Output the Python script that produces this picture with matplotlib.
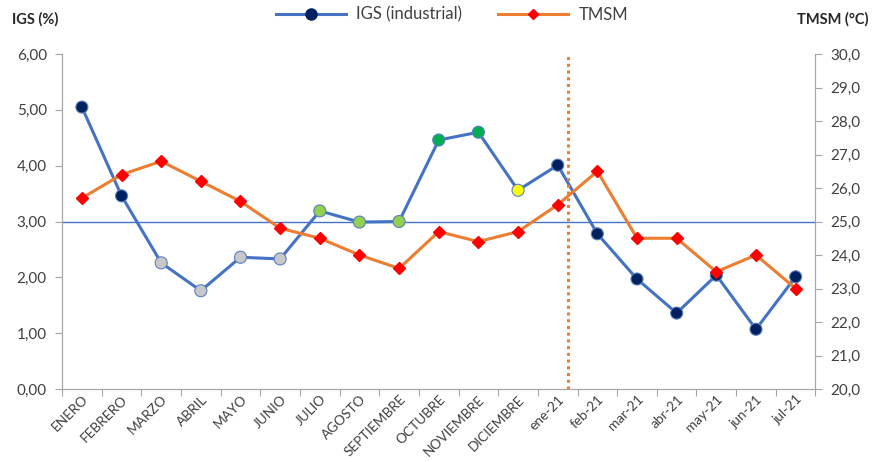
import numpy as np
import matplotlib.pyplot as plt
from matplotlib.lines import Line2D

plt.rcParams['font.family'] = ['Lato', 'DejaVu Sans']

# Monthly series
months = ["ENERO", "FEBRERO", "MARZO", "ABRIL", "MAYO", "JUNIO", "JULIO", "AGOSTO",
          "SEPTIEMBRE", "OCTUBRE", "NOVIEMBRE", "DICIEMBRE", "ene-21", "feb-21",
          "mar-21", "abr-21", "may-21", "jun-21", "jul-21"]
igs = [5.05, 3.46, 2.26, 1.76, 2.36, 2.33, 3.19, 2.99, 3.00, 4.46, 4.60, 3.56,
       4.01, 2.78, 1.97, 1.36, 2.04, 1.07, 2.01]
tmsm = [25.7, 26.4, 26.8, 26.2, 25.6, 24.8, 24.5, 24.0, 23.6, 24.7, 24.4, 24.7,
        25.5, 26.5, 24.5, 24.5, 23.5, 24.0, 23.0]
igs_colors = ["#002060", "#002060", "#C8C8C8", "#C8C8C8", "#C8C8C8", "#C8C8C8",
              "#92D050", "#92D050", "#92D050", "#00B050", "#00B050", "#FFFF00",
              "#002060", "#002060", "#002060", "#002060", "#002060", "#002060", "#002060"]
igs_ref = 3.0
split_pos = 12.25

blue = "#4472C4"
orange = "#ED7D31"
grey = "#404040"

x = np.arange(len(months))

fig = plt.figure(figsize=(8.74, 4.62), dpi=100)
ax = fig.add_axes([0.071, 0.158, 0.862, 0.725])
ax2 = ax.twinx()

# IGS line with coloured markers
ax.plot(x, igs, color=blue, lw=2.2, zorder=3)
ax.scatter(x, igs, s=75, c=igs_colors, edgecolors="#5B7FC0", linewidths=0.8, zorder=4)
ax.axhline(igs_ref, color=blue, lw=1, zorder=2)

# temperature line on the right axis
ax2.plot(x, tmsm, color=orange, lw=2.2, marker="D", ms=6, mfc="red", mec="red", zorder=3)
ax2.axvline(split_pos, color=orange, lw=2.2, ls=(0, (1, 1.2)), zorder=2)

ax.set_xlim(-0.5, len(months) - 0.5)
ax.set_ylim(0, 6)
ax2.set_ylim(20, 30)
ax.set_yticks(np.arange(0, 6.01, 1))
ax.set_yticklabels([f"{v:.2f}".replace(".", ",") for v in np.arange(0, 6.01, 1)])
ax2.set_yticks(np.arange(20, 30.01, 1))
ax2.set_yticklabels([f"{v:.1f}".replace(".", ",") for v in np.arange(20, 30.01, 1)])

ax.set_xticks(np.arange(len(months) + 1) - 0.5, minor=False)
ax.set_xticklabels([])
ax.set_xticks(x, minor=True)
ax.set_xticklabels(months, minor=True, rotation=45, ha="right", rotation_mode="anchor")
ax.tick_params(axis="x", which="minor", length=0, pad=3, labelsize=9.8, labelcolor=grey)
ax.tick_params(axis="x", which="major", length=5, color="#A6A6A6")
ax.tick_params(axis="y", length=5, color="#A6A6A6", labelsize=11, labelcolor=grey, pad=6)
ax2.tick_params(axis="y", length=5, color="#A6A6A6", labelsize=11, labelcolor=grey, pad=6)

for a in (ax, ax2):
    a.spines["top"].set_visible(False)
    for s in ("left", "right", "bottom"):
        a.spines[s].set_color("#A6A6A6")

fig.text(0.014, 0.958, "IGS (%)", fontsize=10.5, fontweight="bold", color="#262626", va="center")
fig.text(0.912, 0.958, "TMSM (°C)", fontsize=10.5, fontweight="bold", color="#262626", va="center")

handles = [
    Line2D([], [], color=blue, lw=2.2, marker="o", ms=8, mfc="#002060", mec="#002060"),
    Line2D([], [], color=orange, lw=2.2, marker="D", ms=5, mfc="red", mec="red"),
]
fig.legend(handles, ["IGS (industrial)", "TMSM"], loc="center", bbox_to_anchor=(0.517, 0.968),
           ncol=2, frameon=False, fontsize=12, handlelength=4.2, handletextpad=0.6,
           columnspacing=2.2, labelcolor=grey)

fig.savefig("out.png", dpi=100)
